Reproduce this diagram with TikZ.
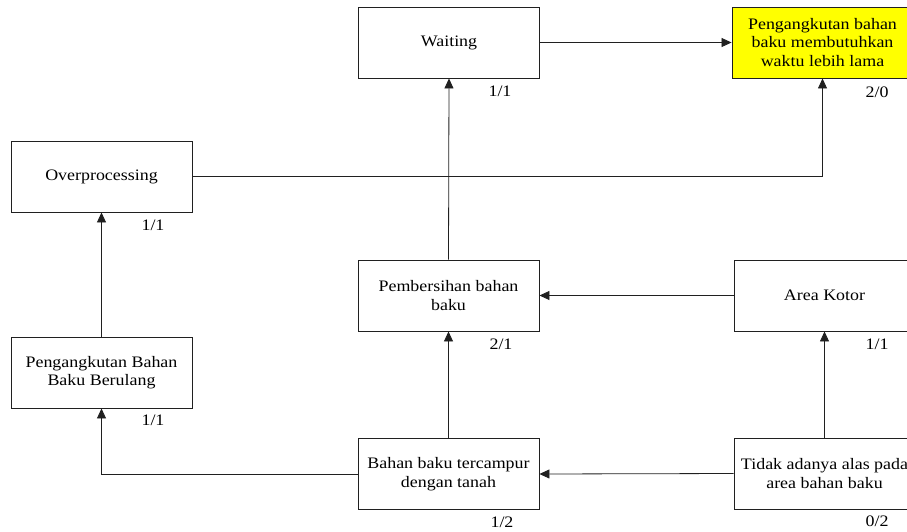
\documentclass[tikz,border=0pt]{standalone}
\usepackage{fontspec}
\setmainfont[FakeStretch=1.12]{Liberation Serif}
\usetikzlibrary{arrows.meta}
\definecolor{boxline}{HTML}{202020}
\tikzset{
  wbox/.style={draw=boxline, line width=0.9pt, minimum width=181pt, minimum height=71pt,
    inner sep=0pt, align=center, font=\fontsize{16}{18.5}\selectfont},
  hot/.style={fill={rgb,255:red,255;green,255;blue,0}},
  ratio/.style={inner sep=0pt, font=\fontsize{16}{18.5}\selectfont},
  conn/.style={draw=boxline, line width=0.8pt, -{Triangle[length=10pt,width=9pt]}}
}
\begin{document}
\begin{tikzpicture}[x=1pt,y=-1pt]
\useasboundingbox (0,0) rectangle (907,531);
\node[wbox] (wait) at (449,42.5) {Waiting};
\node[wbox,hot] (yel) at (822.5,42.5) {Pengangkutan bahan\\baku membutuhkan\\waktu lebih lama};
\node[wbox] (over) at (101.5,176.5) {Overprocessing};
\node[wbox] (pemb) at (448.5,295.5) {Pembersihan bahan\\baku};
\node[wbox] (area) at (824.5,295.5) {Area Kotor};
\node[wbox] (peng) at (101.5,372.5) {Pengangkutan Bahan\\Baku Berulang};
\node[wbox] (bahan) at (448.5,474) {Bahan baku tercampur\\dengan tanah};
\node[wbox] (tidak) at (824.5,473.5) {Tidak adanya alas pada\\area bahan baku};

\node[ratio] (rwait) at (500,91) {1/1};
\node[ratio] (ryel) at (877,92) {2/0};
\node[ratio] (rover) at (153,225) {1/1};
\node[ratio] (rpemb) at (501,344) {2/1};
\node[ratio] (rarea) at (877,344) {1/1};
\node[ratio] (rpeng) at (153,420) {1/1};
\node[ratio] (rbahan) at (502,522) {1/2};
\node[ratio] (rtidak) at (877,521) {0/2};

\draw[conn] (wait.east) -- (yel.west);
\draw[conn] (over.east) -| (yel.south);
\draw[conn] (pemb.north) -- (wait.south);
\draw[conn] (area.west) -- (pemb.east);
\draw[conn] (bahan.north) -- (pemb.south);
\draw[conn] (tidak.west) -- (bahan.east);
\draw[conn] (tidak.north) -- (area.south);
\draw[conn] (bahan.west) -| (peng.south);
\draw[conn] (peng.north) -- (over.south);
\end{tikzpicture}
\end{document}
